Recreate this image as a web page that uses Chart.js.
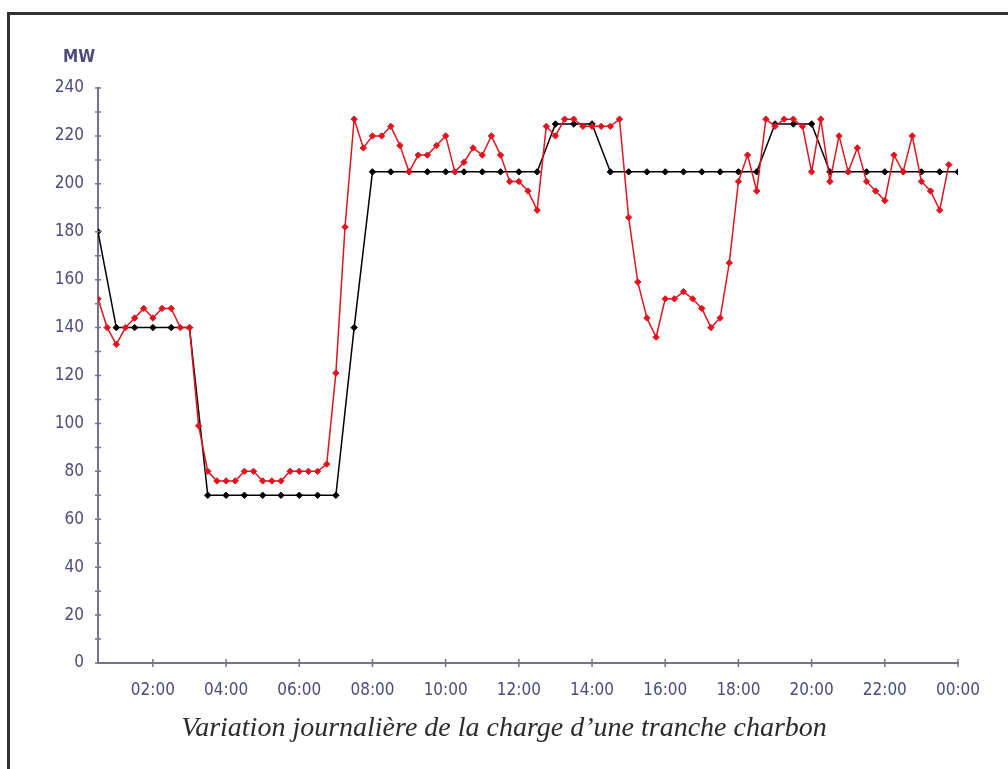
<!DOCTYPE html>
<html>
<head>
<meta charset="utf-8">
<title>Variation journalière de la charge</title>
<script src="https://cdn.jsdelivr.net/npm/chart.js@4.4.1/dist/chart.umd.min.js"></script>
<style>
  body { margin: 0; background: #fff; overflow: hidden; }
  #frame { position: absolute; left: 7px; top: 12px; width: 1001px; height: 757px; border-top: 3px solid #333; border-left: 3px solid #333; box-sizing: border-box; }
  #wrap { position: absolute; left: 0; top: 0; width: 1008px; height: 769px; }
  #unit { position: absolute; left: 63px; top: 46px; font-family: 'Liberation Sans Narrow', 'DejaVu Sans Condensed', sans-serif; font-size: 17px; font-weight: bold; color: #4b4b7d; }
  #caption { position: absolute; left: 0; top: 711px; width: 1008px; text-align: center; font-family: 'Liberation Serif', 'Times New Roman', serif; font-style: italic; font-size: 28px; color: #2b2b2b; }
</style>
</head>
<body>
<div id="frame"></div>
<div id="wrap"><canvas id="charge"></canvas></div>
<div id="unit">MW</div>
<div id="caption">Variation journalière de la charge d’une tranche charbon</div>
<script>
// first sample at 00:30, last at 24:00 (shown as 00:00)
const startHour = 0.5;
const redStep = 0.25;   // measured load, every 15 min
const blackStep = 0.5;  // programme, every 30 min

// measured load (MW), 00:30 .. 23:45
const redLoad = [
    152, 140,
    133, 140, 144, 148,
    144, 148, 148, 140,
    140, 99, 80, 76,
    76, 76, 80, 80,
    76, 76, 76, 80,
    80, 80, 80, 83,
    121, 182, 227, 215,
    220, 220, 224, 216,
    205, 212, 212, 216,
    220, 205, 209, 215,
    212, 220, 212, 201,
    201, 197, 189, 224,
    220, 227, 227, 224,
    224, 224, 224, 227,
    186, 159, 144, 136,
    152, 152, 155, 152,
    148, 140, 144, 167,
    201, 212, 197, 227,
    224, 227, 227, 224,
    205, 227, 201, 220,
    205, 215, 201, 197,
    193, 212, 205, 220,
    201, 197, 189, 208
];

// scheduled load (MW), 00:30 .. 24:00
const blackLoad = [
    180,
    140, 140,
    140, 140,
    140, 70,
    70, 70,
    70, 70,
    70, 70,
    70, 140,
    205, 205,
    205, 205,
    205, 205,
    205, 205,
    205, 205,
    225, 225,
    225, 205,
    205, 205,
    205, 205,
    205, 205,
    205, 205,
    225, 225,
    225, 205,
    205, 205,
    205, 205,
    205, 205,
    205
];

const hourTicks = [2, 4, 6, 8, 10, 12, 14, 16, 18, 20, 22, 24];
const hourLabels = ['02:00', '04:00', '06:00', '08:00', '10:00', '12:00', '14:00', '16:00', '18:00', '20:00', '22:00', '00:00'];

const axisColor = '#74748e';
const labelColor = '#4b4b7d';
const redColor = '#e0141e';
const tickFont = { family: "'Liberation Sans Narrow', 'DejaVu Sans Condensed', sans-serif", size: 17 };

function toPoints(values, step) {
    return values.map((v, i) => ({ x: startHour + i * step, y: v }));
}

// small marks crossing both axes, like the original plot
const tickMarks = {
    id: 'tickMarks',
    afterDraw(chart) {
        const ctx = chart.ctx;
        const area = chart.chartArea;
        const xs = chart.scales.x, ys = chart.scales.y;
        ctx.save();
        ctx.strokeStyle = axisColor;
        ctx.lineWidth = 1.5;
        ctx.beginPath();
        ys.ticks.forEach((t) => {
            const py = ys.getPixelForValue(t.value);
            ctx.moveTo(area.left - 3, py);
            ctx.lineTo(area.left + 3, py);
        });
        xs.ticks.forEach((t) => {
            const px = xs.getPixelForValue(t.value);
            ctx.moveTo(px, area.bottom - 4);
            ctx.lineTo(px, area.bottom + 4);
        });
        ctx.stroke();
        ctx.restore();
    }
};

const ctx = document.getElementById('charge').getContext('2d');
new Chart(ctx, {
    type: 'line',
    data: {
        datasets: [
            {
                label: 'Charge réalisée',
                data: toPoints(redLoad, redStep),
                borderColor: redColor,
                backgroundColor: redColor,
                borderWidth: 1.5,
                pointStyle: 'rectRot',
                pointRadius: 3.2,
                pointBorderWidth: 1,
                tension: 0,
                fill: false
            },
            {
                label: 'Programme',
                data: toPoints(blackLoad, blackStep),
                borderColor: '#000',
                backgroundColor: '#000',
                borderWidth: 1.5,
                pointStyle: 'rectRot',
                pointRadius: 3.2,
                pointBorderWidth: 1,
                tension: 0,
                fill: false
            }
        ]
    },
    options: {
        responsive: true,
        maintainAspectRatio: false,
        animation: false,
        layout: { padding: { left: 0, top: 88, right: 50, bottom: 66 } },
        scales: {
            x: {
                type: 'linear',
                min: startHour,
                max: 24,
                afterBuildTicks: (scale) => {
                    scale.ticks = hourTicks.map((v) => ({ value: v }));
                },
                afterFit: (scale) => { scale.height = 40; },
                grid: { display: false },
                border: { display: true, color: axisColor, width: 2 },
                ticks: {
                    autoSkip: false,
                    maxRotation: 0,
                    padding: 9,
                    color: labelColor,
                    font: tickFont,
                    callback: (v) => hourLabels[hourTicks.indexOf(v)]
                }
            },
            y: {
                min: 0,
                max: 240,
                afterFit: (scale) => { scale.width = 98; },
                grid: { display: false },
                border: { display: true, color: axisColor, width: 2 },
                ticks: {
                    stepSize: 10,
                    autoSkip: false,
                    padding: 6,
                    color: labelColor,
                    font: tickFont,
                    callback: (v) => (v % 20 === 0 ? v : '')
                }
            }
        },
        plugins: {
            legend: { display: false },
            title: { display: false },
            tooltip: { enabled: false }
        }
    },
    plugins: [tickMarks]
});
</script>
</body>
</html>
